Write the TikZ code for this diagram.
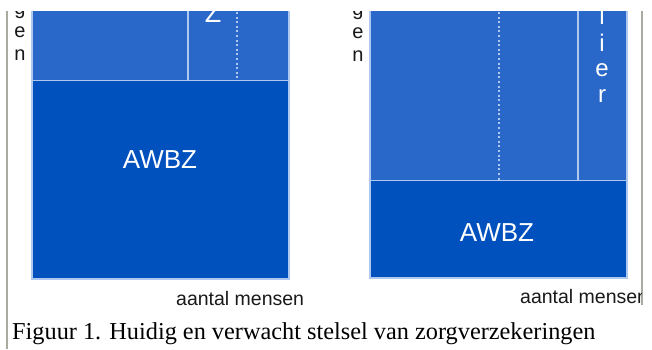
\documentclass[tikz,border=0pt]{standalone}
\usepackage{fontspec}
\setmainfont{Liberation Serif}
\newfontfamily\arialf{Liberation Sans}
\definecolor{lightblue}{RGB}{41,104,200}
\definecolor{darkblue}{RGB}{0,80,190}
\definecolor{edgeline}{RGB}{175,200,240}
\definecolor{framegray}{RGB}{170,170,160}
\definecolor{labelgray}{RGB}{25,25,25}
\tikzset{
  upperbox/.style={fill=lightblue, draw=edgeline, line width=1.2pt},
  lowerbox/.style={fill=darkblue, draw=edgeline, line width=1.2pt},
  divider/.style={draw=edgeline, line width=1.5pt},
  dotline/.style={draw=edgeline, line width=2pt, dash pattern=on 2pt off 2.6pt},
  frameline/.style={draw=framegray, line width=1.4pt},
  boxtext/.style={text=white, font=\arialf\fontsize{26}{26}\selectfont, inner sep=0pt},
  sidetext/.style={text=labelgray, font=\arialf\fontsize{20}{20}\selectfont, inner sep=0pt, anchor=base},
  vertwhite/.style={text=white, font=\arialf\fontsize{24}{24}\selectfont, inner sep=0pt, anchor=base},
  axistext/.style={text=labelgray, font=\arialf\fontsize{19.5}{19.5}\selectfont, inner sep=0pt, anchor=base west},
}
\begin{document}
\begin{tikzpicture}[x=1pt,y=-1pt]
  \useasboundingbox[fill=white] (0,0) rectangle (652,349);

  % everything above y=11 is cut off
  \begin{scope}
    \clip (0,11) rectangle (652,349);

    % outer frame lines
    \draw[frameline] (7,0) -- (7,349);
    \draw[frameline] (642,0) -- (642,305);

    % left panel: current system
    \path[upperbox] (32,0) rectangle (289,80.5);
    \path[lowerbox] (32,80.5) rectangle (289,279);
    \draw[divider] (188,0) -- (188,80);
    \draw[dotline] (237,12) -- (237,80);
    \node[vertwhite, font=\arialf\fontsize{27}{27}\selectfont] (zl) at (213,22) {Z};
    \node[boxtext] (awbzl) at (160,160) {AWBZ};
    \node[sidetext] (lg) at (20,14) {g};
    \node[sidetext] (le) at (20,37) {e};
    \node[sidetext] (ln) at (20,60) {n};
    \node[axistext] (axl) at (176,305) {aantal mensen};

    % right panel: expected system
    \path[upperbox] (370,0) rectangle (627,180.5);
    \path[lowerbox] (370,180.5) rectangle (627,278);
    \draw[dotline] (499,12) -- (499,180);
    \draw[divider] (578,0) -- (578,180);
    \node[vertwhite] (rl) at (602,24) {l};
    \node[vertwhite] (ri) at (602,51) {i};
    \node[vertwhite] (re) at (602,76) {e};
    \node[vertwhite] (rr) at (602,102) {r};
    \node[boxtext] (awbzr) at (497,233) {AWBZ};
    \node[sidetext] (rg) at (358,15) {g};
    \node[sidetext] (re2) at (358,38) {e};
    \node[sidetext] (rn) at (358,61) {n};
    \begin{scope}
      \clip (500,280) rectangle (641.3,320);
      \node[axistext] (axr) at (520,303) {aantal mensen};
    \end{scope}
  \end{scope}

  % caption
  \node[anchor=base west, inner sep=0pt, font=\fontsize{24.3}{24.3}\selectfont] (cap) at (12,339)
    {Figuur 1. Huidig en verwacht stelsel van zorgverzekeringen};
\end{tikzpicture}
\end{document}
